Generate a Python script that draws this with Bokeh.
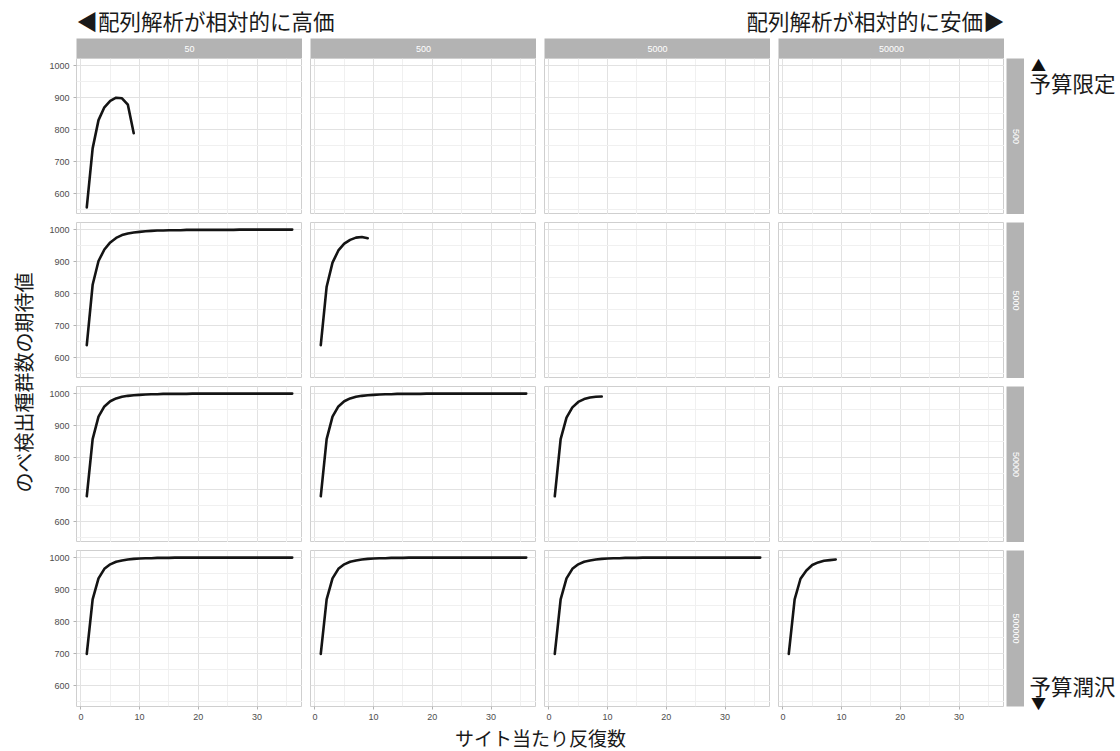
import math
from bokeh.plotting import figure
from bokeh.layouts import row, column
from bokeh.models import Range1d, FixedTicker, Label
from bokeh.embed import file_html
from bokeh.resources import INLINE

# ---------------- data ----------------
cost_labels = ["50", "500", "5000", "50000"]          # columns (sequencing cost)
budget_labels = ["500", "5000", "50000", "500000"]    # rows (budget)

reps_short = [1, 2, 3, 4, 5, 6, 7, 8, 9]
reps_long = [1, 2, 3, 4, 5, 6, 7, 8, 9, 10, 11, 12, 13, 14, 15, 16, 17, 18,
             19, 20, 21, 22, 23, 24, 25, 26, 27, 28, 29, 30, 31, 32, 33, 34, 35, 36]

b500_c50 = [558, 742, 830, 870, 890, 900, 898, 878, 789]

b5000_c50 = [640, 828, 902, 938, 960, 974, 983, 988, 991, 993, 995, 996, 997, 997,
             998, 998, 998, 999, 999, 999, 999, 999, 999, 999, 999, 999, 1000, 1000,
             1000, 1000, 1000, 1000, 1000, 1000, 1000, 1000]
b5000_c500 = [640, 822, 897, 935, 956, 968, 975, 977, 973]

b50000_c50 = [680, 858, 928, 960, 976, 985, 990, 993, 995, 996, 997, 998, 998, 999,
              999, 999, 999, 999, 1000, 1000, 1000, 1000, 1000, 1000, 1000, 1000, 1000,
              1000, 1000, 1000, 1000, 1000, 1000, 1000, 1000, 1000]
b50000_c500 = [680, 858, 928, 960, 976, 985, 990, 993, 995, 996, 997, 998, 998, 999,
               999, 999, 999, 999, 1000, 1000, 1000, 1000, 1000, 1000, 1000, 1000, 1000,
               1000, 1000, 1000, 1000, 1000, 1000, 1000, 1000, 1000]
b50000_c5000 = [680, 858, 925, 957, 974, 983, 988, 990, 991]

b500000_c50 = [700, 870, 935, 965, 979, 987, 991, 994, 996, 997, 998, 998, 999, 999,
               999, 1000, 1000, 1000, 1000, 1000, 1000, 1000, 1000, 1000, 1000, 1000,
               1000, 1000, 1000, 1000, 1000, 1000, 1000, 1000, 1000, 1000]
b500000_c500 = [700, 870, 935, 965, 979, 987, 991, 994, 996, 997, 998, 998, 999, 999,
                999, 1000, 1000, 1000, 1000, 1000, 1000, 1000, 1000, 1000, 1000, 1000,
                1000, 1000, 1000, 1000, 1000, 1000, 1000, 1000, 1000, 1000]
b500000_c5000 = [700, 870, 935, 965, 979, 987, 991, 994, 996, 997, 998, 998, 999, 999,
                 999, 1000, 1000, 1000, 1000, 1000, 1000, 1000, 1000, 1000, 1000, 1000,
                 1000, 1000, 1000, 1000, 1000, 1000, 1000, 1000, 1000, 1000]
b500000_c50000 = [700, 870, 934, 960, 977, 985, 990, 992, 994]

x_ticks = [0, 10, 20, 30]
x_minor = [5, 15, 25, 35]
y_ticks = [600, 700, 800, 900, 1000]
y_minor = [550, 650, 750, 850, 950]

title_left = "◀配列解析が相対的に高価"
title_right = "配列解析が相対的に安価▶"
label_top = "予算限定"
label_bottom = "予算潤沢"
x_title = "サイト当たり反復数"
y_title = "のべ検出種群数の期待値"

series = {
    (0, 0): (reps_short, b500_c50),
    (1, 0): (reps_long, b5000_c50),
    (1, 1): (reps_short, b5000_c500),
    (2, 0): (reps_long, b50000_c50),
    (2, 1): (reps_long, b50000_c500),
    (2, 2): (reps_short, b50000_c5000),
    (3, 0): (reps_long, b500000_c50),
    (3, 1): (reps_long, b500000_c500),
    (3, 2): (reps_long, b500000_c5000),
    (3, 3): (reps_short, b500000_c50000),
}

# ---------------- styling ----------------
JP = "Noto Sans CJK JP"
NUM = "Liberation Sans"
STRIP = "#b3b3b3"
PW, PH = 226, 156
TOP_H, STRIP_H, BOT_BORDER = 38, 20, 17
GRID_H = PH * 4 + 8 * 3 + BOT_BORDER
BOTTOM_H = 751 - TOP_H - STRIP_H - GRID_H

all_x = [v for xs, _ in series.values() for v in xs]
all_y = [v for _, ys in series.values() for v in ys]
xpad = 0.05 * (max(all_x) - min(all_x))
ypad = 0.05 * (max(all_y) - min(all_y))
X0, X1 = min(all_x) - xpad, max(all_x) + xpad
Y0, Y1 = min(all_y) - ypad, max(all_y) + ypad


def blank(w, h, **kw):
    p = figure(frame_width=w, frame_height=h, x_range=Range1d(0, w), y_range=Range1d(h, 0),
               x_axis_location=None, y_axis_location=None,
               output_backend="svg", toolbar_location=None,
               min_border_left=kw.get("left", 0), min_border_right=kw.get("right", 0),
               min_border_top=kw.get("top", 0), min_border_bottom=kw.get("bottom", 0))
    p.grid.visible = False
    p.outline_line_color = None
    p.background_fill_color = kw.get("bg", "white")
    p.border_fill_color = "white"
    return p


def panel(i, j):
    p = figure(frame_width=PW, frame_height=PH,
               x_range=Range1d(X0, X1), y_range=Range1d(Y0, Y1),
               x_axis_location="below" if i == 3 else None,
               y_axis_location="left" if j == 0 else None,
               output_backend="svg", toolbar_location=None,
               min_border_left=36 if j == 0 else 8, min_border_right=0,
               min_border_top=0 if i == 0 else 8,
               min_border_bottom=BOT_BORDER if i == 3 else 0)
    p.background_fill_color = "white"
    p.border_fill_color = "white"
    p.outline_line_color = "#cfcfcf"
    p.outline_line_width = 1
    p.xgrid.ticker = FixedTicker(ticks=x_ticks, minor_ticks=x_minor)
    p.ygrid.ticker = FixedTicker(ticks=y_ticks, minor_ticks=y_minor)
    for g in (p.xgrid, p.ygrid):
        g.grid_line_color = "#e2e2e2"
        g.grid_line_width = 1
        g.minor_grid_line_color = "#f0f0f0"
        g.minor_grid_line_width = 1
    axes = []
    if i == 3:
        p.xaxis.ticker = FixedTicker(ticks=x_ticks, minor_ticks=x_minor)
        axes.append(p.xaxis)
    if j == 0:
        p.yaxis.ticker = FixedTicker(ticks=y_ticks, minor_ticks=y_minor)
        axes.append(p.yaxis)
    for ax in axes:
        ax.axis_line_color = None
        ax.major_tick_line_color = "#b3b3b3"
        ax.major_tick_out = 3
        ax.major_tick_in = 0
        ax.minor_tick_line_color = None
        ax.major_label_standoff = 3
        ax.major_label_text_font = NUM
        ax.major_label_text_font_size = "9px"
        ax.major_label_text_color = "#4d4d4d"
    if (i, j) in series:
        xs, ys = series[(i, j)]
        p.line(xs, ys, line_color="#141414", line_width=2.6, line_join="round", line_cap="round")
    return p


# top titles
top = blank(1120, TOP_H)
top.add_layout(Label(x=76, y=20, text=title_left, text_font=JP, text_font_size="21.5px",
                     text_align="left", text_baseline="middle", text_color="#1a1a1a"))
top.add_layout(Label(x=1004, y=20, text=title_right, text_font=JP, text_font_size="21.5px",
                     text_align="right", text_baseline="middle", text_color="#1a1a1a"))

# top strips
strips = []
for j, lab in enumerate(cost_labels):
    s = blank(PW, STRIP_H, left=76 if j == 0 else 8, bg=STRIP)
    s.add_layout(Label(x=PW / 2, y=STRIP_H / 2, text=lab, text_font=NUM, text_font_size="9px",
                       text_color="white", text_align="center", text_baseline="middle"))
    strips.append(s)
strip_row = row(*strips)

# panels
panel_rows = [row(*[panel(i, j) for j in range(4)]) for i in range(4)]
panels = column(*panel_rows)

# right strips
rstrips = []
for i, lab in enumerate(budget_labels):
    s = blank(18, PH, left=2, top=0 if i == 0 else 8,
              bottom=BOT_BORDER if i == 3 else 0, bg=STRIP)
    s.add_layout(Label(x=9, y=PH / 2, text=lab, text_font=NUM, text_font_size="9px",
                       text_color="white", text_align="center", text_baseline="middle",
                       angle=-math.pi / 2))
    rstrips.append(s)
rstrip_col = column(*rstrips)

# left y title
left = blank(40, GRID_H)
left.add_layout(Label(x=23, y=(PH * 4 + 24) / 2, text=y_title, text_font=JP,
                      text_font_size="20px", text_align="center", text_baseline="middle",
                      angle=math.pi / 2, text_color="#1a1a1a"))

# right annotations (span strip row + grid)
RH = STRIP_H + GRID_H
right = blank(96, RH)
right.add_layout(Label(x=14, y=26, text="▲", text_font=JP, text_font_size="15px",
                       text_align="center", text_baseline="middle", text_color="#111111"))
right.add_layout(Label(x=5, y=44, text=label_top, text_font=JP, text_font_size="21.5px",
                       text_align="left", text_baseline="middle", text_color="#1a1a1a"))
right.add_layout(Label(x=5, y=STRIP_H + PH * 4 + 24 - 21, text=label_bottom, text_font=JP,
                       text_font_size="21.5px", text_align="left", text_baseline="middle",
                       text_color="#1a1a1a"))
right.add_layout(Label(x=14, y=STRIP_H + PH * 4 + 24 - 4, text="▼", text_font=JP,
                       text_font_size="15px", text_align="center", text_baseline="middle",
                       text_color="#111111"))

# bottom x title
bottom = blank(1120, BOTTOM_H)
bottom.add_layout(Label(x=540, y=BOTTOM_H / 2, text=x_title, text_font=JP, text_font_size="19px",
                        text_align="center", text_baseline="middle", text_color="#1a1a1a"))

main = row(column(strip_row, row(left, panels, rstrip_col)), right)
layout = column(top, main, bottom)

open("out.html", "w").write(file_html(layout, INLINE))
